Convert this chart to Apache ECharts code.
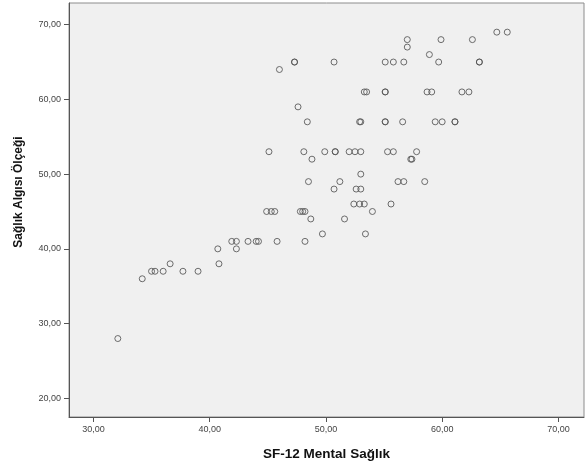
<!DOCTYPE html>
<html>
<head>
<meta charset="utf-8">
<script src="https://cdn.jsdelivr.net/npm/echarts@6/dist/echarts.min.js"></script>
<style>
html,body{margin:0;padding:0;background:#fff;}
#chart{width:585px;height:468px;}
</style>
</head>
<body>
<div id="chart"></div>
<script>
var xTitle = 'SF-12 Mental Sağlık';
var yTitle = 'Sağlık Algısı Ölçeği';
var xTicks = [30, 40, 50, 60, 70];
var yTicks = [20, 30, 40, 50, 60, 70];

var mental = [32.1, 34.2, 35.0, 35.3, 36.0, 36.6, 37.7, 39.0, 40.7, 40.8, 41.9, 42.3, 42.3, 43.3, 44.0, 44.2, 45.8, 48.2,
  44.9, 45.3, 45.6, 47.8, 48.0, 48.2, 48.7, 48.5, 49.7, 50.7, 51.2, 51.6, 52.4, 52.9, 53.3, 52.6, 53.0, 53.0, 53.4, 54.0,
  48.8, 57.4, 56.2, 56.7, 58.5, 55.6, 47.3, 47.3, 50.7, 46.0, 53.5, 53.3, 47.6, 48.4, 52.9, 53.0, 45.1, 48.1, 49.9, 50.8,
  50.8, 52.0, 52.5, 53.0, 57.0, 57.0, 59.9, 62.6, 64.7, 65.6, 55.1, 55.8, 56.7, 58.9, 59.7, 63.2, 63.2, 55.1, 55.1, 58.7,
  59.1, 61.7, 62.3, 55.1, 55.1, 56.6, 59.4, 60.0, 61.1, 61.1, 55.3, 55.8, 57.8, 57.3];
var algi = [28, 36, 37, 37, 37, 38, 37, 37, 40, 38, 41, 41, 40, 41, 41, 41, 41, 41,
  45, 45, 45, 45, 45, 45, 44, 49, 42, 48, 49, 44, 46, 46, 46, 48, 48, 50, 42, 45,
  52, 52, 49, 49, 49, 46, 65, 65, 65, 64, 61, 61, 59, 57, 57, 57, 53, 53, 53, 53,
  53, 53, 53, 53, 68, 67, 68, 68, 69, 69, 65, 65, 65, 66, 65, 65, 65, 61, 61, 61,
  61, 61, 61, 57, 57, 57, 57, 57, 57, 57, 53, 53, 53, 52];

var points = mental.map(function (v, i) { return [v, algi[i]]; });
function fmt(v) { return v.toFixed(2).replace('.', ','); }

var chart = echarts.init(document.getElementById('chart'), null, {renderer: 'canvas'});
chart.setOption({
  animation: false,
  backgroundColor: '#ffffff',
  grid: {left: 69, right: 1, top: 3, bottom: 51, show: true, backgroundColor: '#f0f0f0', borderColor: '#8c8c8c', borderWidth: 1},
  xAxis: {
    type: 'value', min: 27.9, max: 72.2,
    name: xTitle, nameLocation: 'middle', nameGap: 30,
    nameTextStyle: {fontFamily: 'Liberation Sans, Arial', fontWeight: 'bold', fontSize: 13.5, color: '#111'},
    axisLine: {show: true, onZero: false, lineStyle: {color: '#555', width: 1}},
    axisTick: {show: true, length: 5, customValues: xTicks, lineStyle: {color: '#555'}},
    axisLabel: {customValues: xTicks, formatter: fmt, margin: 8, fontSize: 9, color: '#444', fontFamily: 'Liberation Sans, Arial'},
    splitLine: {show: false}
  },
  yAxis: {
    type: 'value', min: 17.5, max: 72.9,
    name: yTitle, nameLocation: 'middle', nameGap: 44, nameRotate: 90,
    nameTextStyle: {fontFamily: 'Liberation Sans, Arial', fontWeight: 'bold', fontSize: 12, color: '#111', padding: [0, 0, 0, 36]},
    axisLine: {show: true, onZero: false, lineStyle: {color: '#555', width: 1}},
    axisTick: {show: true, length: 5, customValues: yTicks, lineStyle: {color: '#555'}},
    axisLabel: {customValues: yTicks, formatter: fmt, margin: 8, fontSize: 9, color: '#444', fontFamily: 'Liberation Sans, Arial'},
    splitLine: {show: false}
  },
  series: [{
    type: 'scatter',
    data: points,
    symbol: 'circle',
    symbolSize: 6,
    itemStyle: {color: 'rgba(0,0,0,0)', borderColor: '#555', borderWidth: 1, opacity: 0.85}
  }]
});
</script>
</body>
</html>
